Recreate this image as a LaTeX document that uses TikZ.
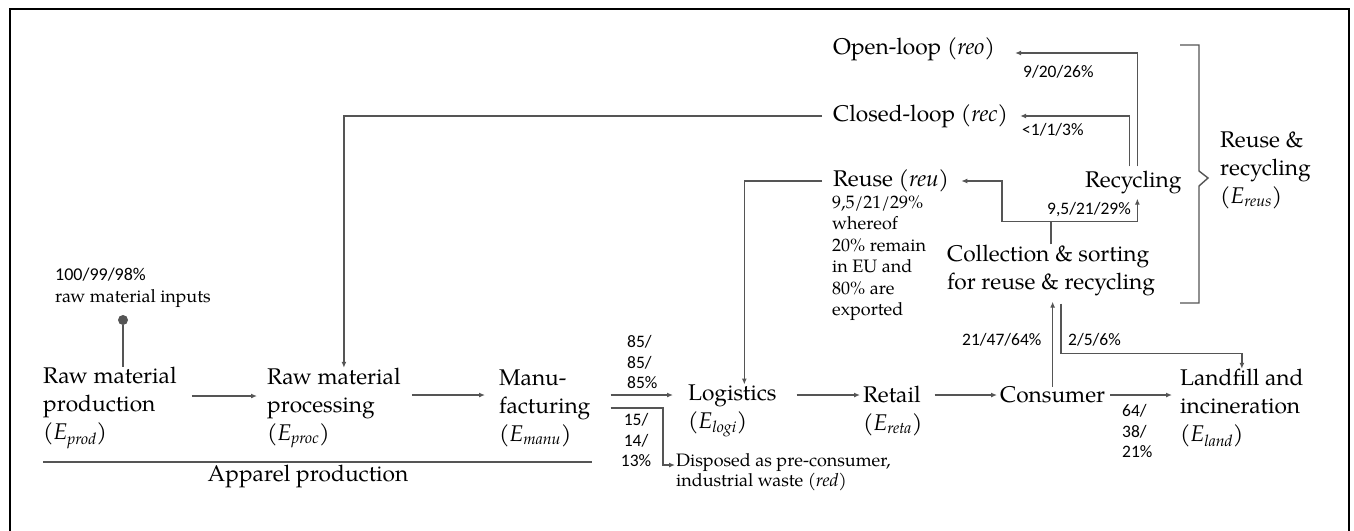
\documentclass[tikz,border=0pt]{standalone}
\usepackage{fontspec}
\newfontfamily\carlito{Carlito}
\IfFontExistsTF{TeX Gyre Pagella}
  {\newfontfamily\palfont{TeX Gyre Pagella}}
  {\newfontfamily\palfont{Liberation Serif}}
\usetikzlibrary{arrows.meta}

\newcommand{\numfont}{\carlito}
\newcommand{\Esub}[1]{(\textit{E}\textsubscript{\textit{#1}})}
\definecolor{linegray}{RGB}{85,85,85}

\tikzset{
  stage_txt/.style={font=\palfont\fontsize{22.7}{28}\selectfont, align=left, inner sep=0pt, anchor=west},
  note_txt/.style={font=\palfont\fontsize{18}{21.5}\selectfont, align=left, inner sep=0pt, anchor=west},
  share_txt/.style={font=\numfont\fontsize{17.5}{20.5}\selectfont, align=left, inner sep=0pt, anchor=west},
  flow_arr/.style={draw=linegray, line width=1.4pt, -{Latex[length=6pt,width=5pt]}},
  plain_ln/.style={draw=linegray, line width=1.4pt},
}

\begin{document}
\begin{tikzpicture}[
  x=1pt, y=-1pt,
  input_dot/.style={circle, fill=linegray, inner sep=0pt, minimum size=10pt},
  ]
  \useasboundingbox (0,0) rectangle (1354,530);
  \draw[line width=2.5pt] (10,9) rectangle (1349,560);

  % value chain
  \node[stage_txt] (prod) at (43,408) {Raw material\\production\\\Esub{prod}};
  \node[stage_txt] (proc) at (267,408) {Raw material\\processing\\\Esub{proc}};
  \node[stage_txt] (manu) at (499,408) {Manu-\\facturing\\\Esub{manu}};
  \node[stage_txt] (logi) at (688,411) {Logistics\\\Esub{logi}};
  \node[stage_txt] (reta) at (863,411) {Retail\\\Esub{reta}};
  \node[stage_txt] (cons) at (1000,395) {Consumer};
  \node[stage_txt] (land) at (1180,408) {Landfill and\\incineration\\\Esub{land}};
  \node[note_txt, font=\palfont\fontsize{18}{20}\selectfont] (disp) at (676,472)
       {Disposed as pre-consumer,\\industrial waste \textit{(red)}};

  % end of life
  \node[stage_txt] (coll) at (947,270) {Collection \& sorting\\for reuse \& recycling};
  \node[stage_txt] (recy) at (1085,182) {Recycling};
  \node[stage_txt] (reu) at (833,181) {Reuse (\textit{reu})};
  \node[stage_txt] (rec) at (833,116) {Closed-loop (\textit{rec})};
  \node[stage_txt] (reo) at (833,49) {Open-loop (\textit{reo})};
  \node[stage_txt] (reus) at (1220,170) {Reuse \&\\recycling\\\Esub{reus}};

  % raw material input
  \node[input_dot] (inp) at (123,320) {};
  \node[note_txt] (inp_lbl) at (55,288) {{\numfont 100/99/98\%}\\raw material inputs};
  \draw[plain_ln] (inp) -- (inp |- prod.north);

  % apparel production
  \draw[plain_ln] (43,462) -- (592,462);
  \node[stage_txt, anchor=center] (app) at (308,476) {Apparel production};

  % main flow
  \draw[flow_arr] ([xshift=15pt,yshift=12pt]prod.east) -- ([xshift=-10pt,yshift=12pt]proc.west);
  \draw[flow_arr] ([xshift=11pt,yshift=13pt]proc.east) -- ([xshift=-14pt,yshift=13pt]manu.west);
  \draw[flow_arr] ([xshift=20pt,yshift=13pt]manu.east) -- ([xshift=-15pt,yshift=16pt]logi.west);
  \draw[flow_arr] ([xshift=20pt]manu.east) -| ([xshift=-13pt,yshift=7pt]disp.west)
       -- ([xshift=-1pt,yshift=7pt]disp.west);
  \draw[flow_arr] ([xshift=20pt,yshift=16pt]logi.east) -- ([xshift=-3pt,yshift=16pt]reta.west);
  \draw[flow_arr] ([xshift=12pt,yshift=16pt]reta.east) -- ([xshift=-3pt]cons.west);
  \draw[flow_arr] ([xshift=5pt]cons.east) -- ([xshift=-8pt,yshift=13pt]land.west);

  % collection and loops
  \draw[flow_arr, shorten >=6pt] (cons.north) -- (cons.north |- coll.south);
  \draw[flow_arr, shorten <=8pt] ([xshift=10pt]coll.south) -- ++(0,58) -| (land.north);
  \draw[plain_ln] (coll.north) -- ++(0,-23) coordinate (split);
  \draw[flow_arr] (split) -- ++(-49,0) |- ([xshift=12pt]reu.east);
  \draw[flow_arr] (split) -| ([xshift=4pt,yshift=-5pt]recy.south);
  \draw[flow_arr, shorten <=4pt] ([xshift=4pt]recy.north) |- ([xshift=20pt,yshift=-4pt]reo.east);
  \draw[flow_arr, shorten <=4pt] ([xshift=-4pt]recy.north) |- ([xshift=12pt]rec.east);
  \draw[flow_arr] ([xshift=-11pt]rec.west) -| ([xshift=10pt]proc.north);
  \draw[flow_arr] ([xshift=-11pt]reu.west) -| ([xshift=12pt]logi.north);

  % bracket
  \draw[plain_ln] (1180,45) -- (1199,45) -- (1199,171) -- (1208,178)
       -- (1199,186) -- (1199,303) -- (1180,303);

  % shares
  \node[share_txt] (s_logi) at (627,362) {85/\\85/\\85\%};
  \node[share_txt, align=center, anchor=center] (s_disp) at (636,440) {15/\\14/\\13\%};
  \node[share_txt] (s_land) at (1122,431) {64/\\38/\\21\%};
  \node[share_txt] (s_coll) at (962,340) {21/47/64\%};
  \node[share_txt] (s_cland) at (1068,340) {2/5/6\%};
  \node[share_txt] (s_recy) at (1047,210) {9,5/21/29\%};
  \node[share_txt] (s_reo) at (1023,72) {9/20/26\%};
  \node[share_txt] (s_rec) at (1022,130) {<1/1/3\%};
  \node[note_txt] (s_reu) at (832,258) {9,5/21/29\%\\whereof\\20\% remain\\in EU and\\80\% are\\exported};

\end{tikzpicture}
\end{document}
